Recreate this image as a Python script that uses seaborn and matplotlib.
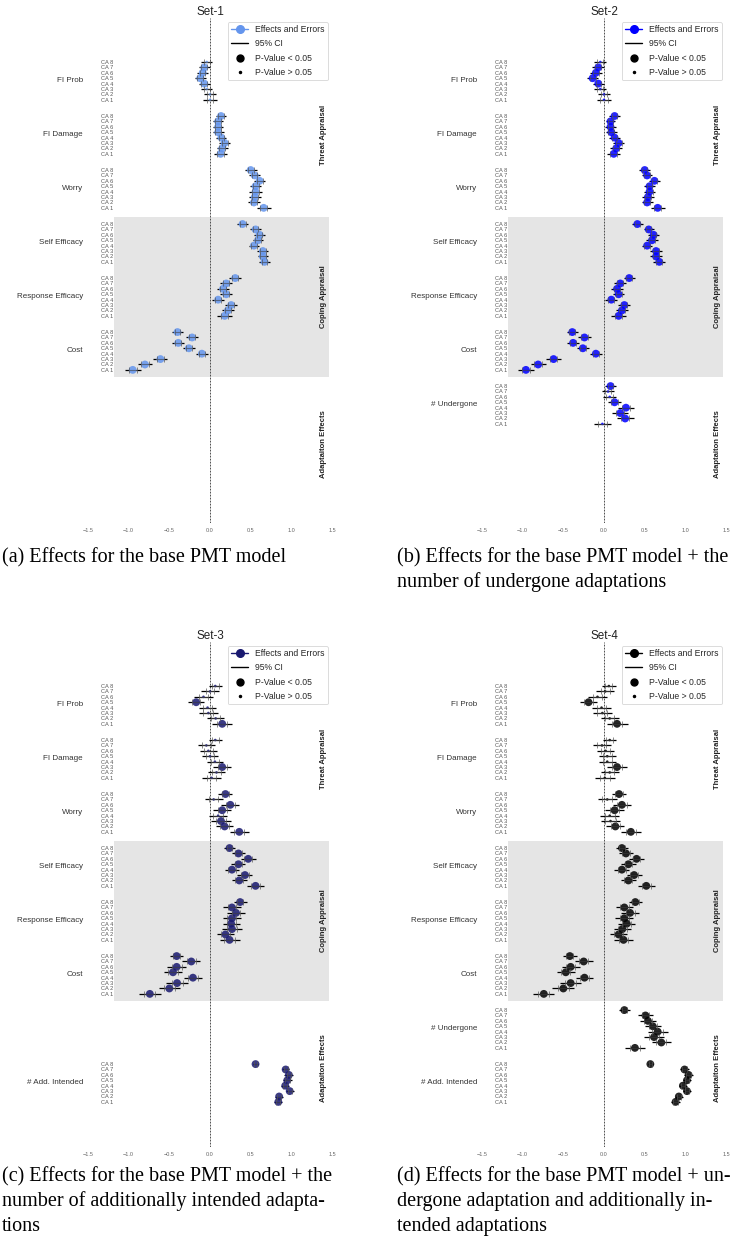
import numpy as np
import pandas as pd
import matplotlib
matplotlib.use("Agg")
import matplotlib.pyplot as plt
import matplotlib.transforms as mtransforms
from matplotlib.lines import Line2D
import seaborn as sns

# ---------------- data ----------------
CA_LABELS = ["CA 8", "CA 7", "CA 6", "CA 5", "CA 4", "CA 3", "CA 2", "CA 1"]
GROUPS = ["FI Prob", "FI Damage", "Worry", "Self Efficacy", "Response Efficacy",
          "Cost", "# Undergone", "# Add. Intended"]
SECTIONS = ["Threat Appraisal", "Coping Appraisal", "Adaptaiton Effects"]
SET_TITLES = ["Set-1", "Set-2", "Set-3", "Set-4"]
SET_COLORS = ["#6495ED", "#0000FF", "#191970", "#000000"]
SET_GROUPS = [[0, 1, 2, 3, 4, 5], [0, 1, 2, 3, 4, 5, 6],
              [0, 1, 2, 3, 4, 5, 7], [0, 1, 2, 3, 4, 5, 6, 7]]
LEGEND_LABELS = ["Effects and Errors", "95% CI", "P-Value < 0.05", "P-Value > 0.05"]
X_TICKS = [-1.5, -1.0, -0.5, 0.0, 0.5, 1.0, 1.5]
CAPTIONS = [
    ["(a) Effects for the base PMT model"],
    ["(b) Effects for the base PMT model + the", "number of undergone adaptations"],
    ["(c) Effects for the base PMT model + the", "number of additionally intended adapta-", "tions"],
    ["(d) Effects for the base PMT model + un-", "dergone adaptation and additionally in-", "tended adaptations"],
]

# effects (rows = groups of the set, columns = CA 8 ... CA 1)
S1_EFFECT = [
    [-0.04, -0.07, -0.09, -0.12, -0.07, -0.04, 0.00, 0.00],
    [0.135, 0.10, 0.10, 0.10, 0.14, 0.18, 0.15, 0.13],
    [0.50, 0.55, 0.61, 0.56, 0.56, 0.55, 0.54, 0.66],
    [0.40, 0.56, 0.61, 0.59, 0.54, 0.65, 0.65, 0.67],
    [0.31, 0.20, 0.16, 0.20, 0.10, 0.26, 0.22, 0.18],
    [-0.40, -0.22, -0.39, -0.26, -0.10, -0.61, -0.80, -0.95],
]
S1_CI = [
    [0.068, 0.068, 0.065, 0.070, 0.068, 0.068, 0.078, 0.082],
    [0.065, 0.065, 0.065, 0.067, 0.061, 0.070, 0.070, 0.075],
    [0.072, 0.065, 0.072, 0.072, 0.076, 0.074, 0.070, 0.088],
    [0.072, 0.068, 0.068, 0.065, 0.065, 0.068, 0.065, 0.072],
    [0.072, 0.072, 0.072, 0.072, 0.070, 0.078, 0.072, 0.088],
    [0.065, 0.074, 0.072, 0.072, 0.070, 0.086, 0.090, 0.096],
]
S1_SIG = [
    [0, 1, 1, 1, 1, 0, 0, 0],
    [1, 1, 1, 1, 1, 1, 1, 1],
    [1, 1, 1, 1, 1, 1, 1, 1],
    [1, 1, 1, 1, 1, 1, 1, 1],
    [1, 1, 1, 1, 1, 1, 1, 1],
    [1, 1, 1, 1, 1, 1, 1, 1],
]

S2_EFFECT = [
    [-0.045, -0.07, -0.10, -0.14, -0.07, -0.045, 0.00, 0.00],
    [0.13, 0.08, 0.08, 0.09, 0.13, 0.18, 0.15, 0.12],
    [0.50, 0.53, 0.62, 0.56, 0.56, 0.54, 0.53, 0.66],
    [0.41, 0.55, 0.61, 0.59, 0.53, 0.64, 0.64, 0.68],
    [0.31, 0.20, 0.16, 0.18, 0.09, 0.25, 0.22, 0.18],
    [-0.39, -0.24, -0.38, -0.26, -0.10, -0.62, -0.81, -0.96],
    [0.08, 0.05, 0.07, 0.13, 0.27, 0.20, 0.26, -0.02],
]
S2_CI = [
    [0.072, 0.072, 0.072, 0.072, 0.066, 0.072, 0.072, 0.088],
    [0.065, 0.061, 0.070, 0.068, 0.065, 0.072, 0.072, 0.082],
    [0.065, 0.065, 0.068, 0.070, 0.072, 0.072, 0.068, 0.086],
    [0.065, 0.061, 0.063, 0.068, 0.063, 0.070, 0.070, 0.076],
    [0.070, 0.072, 0.072, 0.070, 0.072, 0.074, 0.076, 0.088],
    [0.068, 0.078, 0.074, 0.078, 0.076, 0.092, 0.092, 0.094],
    [0.068, 0.078, 0.078, 0.076, 0.098, 0.100, 0.104, 0.106],
]
S2_SIG = [
    [0, 1, 1, 1, 1, 0, 0, 0],
    [1, 1, 1, 1, 1, 1, 1, 1],
    [1, 1, 1, 1, 1, 1, 1, 1],
    [1, 1, 1, 1, 1, 1, 1, 1],
    [1, 1, 1, 1, 1, 1, 1, 1],
    [1, 1, 1, 1, 1, 1, 1, 1],
    [1, 0, 0, 1, 1, 1, 1, 0],
]

S3_EFFECT = [
    [0.065, 0.00, -0.08, -0.17, -0.03, -0.02, 0.07, 0.15],
    [0.065, -0.045, -0.02, 0.00, 0.06, 0.15, 0.08, 0.02],
    [0.19, 0.045, 0.25, 0.15, 0.10, 0.135, 0.18, 0.36],
    [0.24, 0.35, 0.47, 0.35, 0.27, 0.43, 0.36, 0.56],
    [0.37, 0.27, 0.32, 0.27, 0.26, 0.27, 0.19, 0.24],
    [-0.41, -0.23, -0.41, -0.455, -0.21, -0.405, -0.50, -0.74],
    [0.56, 0.93, 0.97, 0.95, 0.925, 0.98, 0.85, 0.84],
]
S3_CI = [
    [0.082, 0.108, 0.112, 0.102, 0.108, 0.118, 0.108, 0.123],
    [0.080, 0.106, 0.104, 0.102, 0.098, 0.112, 0.106, 0.115],
    [0.086, 0.112, 0.112, 0.108, 0.112, 0.118, 0.108, 0.118],
    [0.070, 0.082, 0.090, 0.086, 0.088, 0.092, 0.094, 0.102],
    [0.080, 0.106, 0.106, 0.108, 0.106, 0.123, 0.104, 0.123],
    [0.078, 0.112, 0.118, 0.115, 0.112, 0.133, 0.131, 0.133],
    [0.035, 0.045, 0.055, 0.057, 0.051, 0.049, 0.047, 0.051],
]
S3_SIG = [
    [0, 0, 0, 1, 0, 0, 0, 1],
    [0, 0, 0, 0, 0, 1, 0, 0],
    [1, 0, 1, 1, 0, 1, 1, 1],
    [1, 1, 1, 1, 1, 1, 1, 1],
    [1, 1, 1, 1, 1, 1, 1, 1],
    [1, 1, 1, 1, 1, 1, 1, 1],
    [1, 1, 1, 1, 1, 1, 1, 1],
]

S4_EFFECT = [
    [0.06, 0.015, -0.08, -0.19, -0.03, -0.02, 0.07, 0.16],
    [0.07, -0.025, 0.02, 0.04, 0.04, 0.16, 0.07, 0.01],
    [0.185, 0.04, 0.22, 0.13, 0.07, 0.08, 0.14, 0.33],
    [0.22, 0.27, 0.40, 0.30, 0.22, 0.37, 0.30, 0.52],
    [0.385, 0.25, 0.32, 0.25, 0.28, 0.225, 0.18, 0.24],
    [-0.42, -0.25, -0.41, -0.47, -0.24, -0.41, -0.50, -0.74],
    [0.25, 0.51, 0.54, 0.60, 0.66, 0.615, 0.705, 0.38],
    [0.57, 0.99, 1.04, 1.02, 0.97, 1.02, 0.92, 0.88],
]
S4_CI = [
    [0.086, 0.112, 0.112, 0.102, 0.116, 0.119, 0.112, 0.129],
    [0.082, 0.108, 0.106, 0.106, 0.106, 0.117, 0.112, 0.121],
    [0.088, 0.117, 0.112, 0.112, 0.116, 0.121, 0.112, 0.127],
    [0.076, 0.090, 0.092, 0.088, 0.092, 0.092, 0.096, 0.106],
    [0.080, 0.102, 0.108, 0.110, 0.106, 0.106, 0.108, 0.120],
    [0.082, 0.112, 0.112, 0.111, 0.108, 0.131, 0.137, 0.129],
    [0.065, 0.088, 0.094, 0.102, 0.125, 0.123, 0.119, 0.123],
    [0.030, 0.053, 0.053, 0.053, 0.049, 0.053, 0.047, 0.051],
]
S4_SIG = [
    [0, 0, 0, 1, 0, 0, 0, 1],
    [0, 0, 0, 0, 0, 1, 0, 0],
    [1, 0, 1, 1, 0, 0, 1, 1],
    [1, 1, 1, 1, 1, 1, 1, 1],
    [1, 1, 1, 1, 1, 1, 1, 1],
    [1, 1, 1, 1, 1, 1, 1, 1],
    [1, 1, 1, 1, 1, 1, 1, 1],
    [1, 1, 1, 1, 1, 1, 1, 1],
]

SET_EFFECTS = [S1_EFFECT, S2_EFFECT, S3_EFFECT, S4_EFFECT]
SET_CIS = [S1_CI, S2_CI, S3_CI, S4_CI]
SET_SIGS = [S1_SIG, S2_SIG, S3_SIG, S4_SIG]

# ---------------- style ----------------
sns.set_theme(style="white")
plt.rcParams["font.family"] = ["Liberation Sans", "DejaVu Sans"]

W, H = 740, 1247
fig = plt.figure(figsize=(W / 100, H / 100), dpi=100)

PANEL_BOXES = [(88, 18, 332, 523), (482, 18, 726, 523),
               (88, 642, 332, 1147), (482, 642, 726, 1147)]
CAPTION_POS = [(2, 562), (397, 562), (2, 1181), (397, 1181)]
GROUP_STEP = 10
Y_TOP, Y_BOTTOM = -8.15, 85.35
SHADE = (28.7, 58.3)
SHADE_X = ((114 - 88) / 244, (329 - 88) / 244)
SECTION_Y = [13.5, 43.5, 70.7]

for k in range(4):
    l, t, r, b = PANEL_BOXES[k]
    ax = fig.add_axes([l / W, 1 - b / H, (r - l) / W, (b - t) / H])
    color = SET_COLORS[k]

    rows = []
    for gi, g in enumerate(SET_GROUPS[k]):
        for i in range(8):
            eff = SET_EFFECTS[k][gi][i]
            ci = SET_CIS[k][gi][i]
            rows.append(dict(pos=g * GROUP_STEP + i, effect=eff, lo=eff - ci, hi=eff + ci,
                             se=ci / 1.96, sig="sig" if SET_SIGS[k][gi][i] else "ns",
                             label=CA_LABELS[i]))
    df = pd.DataFrame(rows)

    # shaded coping appraisal block
    ax.axhspan(SHADE[0], SHADE[1], xmin=SHADE_X[0], xmax=SHADE_X[1],
               color="#e5e5e5", lw=0, zorder=0)
    ax.axvline(0, color="#333333", ls=(0, (2.2, 1.4)), lw=0.6, zorder=1)

    # 95% CI
    ax.hlines(df["pos"], df["lo"], df["hi"], color="black", lw=0.9, zorder=2)
    # effects
    sns.scatterplot(data=df, x="effect", y="pos", size="sig",
                    sizes={"sig": 32, "ns": 3.5}, size_order=["sig", "ns"],
                    color=color, alpha=0.85, linewidth=0, legend=False,
                    ax=ax, zorder=3)
    # standard errors
    ax.errorbar(df["effect"], df["pos"], xerr=df["se"], fmt="none",
                ecolor="#555555", elinewidth=0.5, capsize=2.0, capthick=0.6,
                alpha=0.8, zorder=4)

    ax.set_xlim(-1.5, 1.5)
    ax.set_ylim(Y_BOTTOM, Y_TOP)
    ax.set_xlabel("")
    ax.set_ylabel("")
    ax.set_xticks(X_TICKS)
    ax.set_xticklabels([f"{v:.1f}".replace("-", "\u2212") for v in X_TICKS])
    ax.set_yticks(df["pos"])
    ax.set_yticklabels(df["label"])
    ax.tick_params(axis="x", length=0, pad=3.5, labelsize=4.0, labelcolor="#666666")
    ax.tick_params(axis="y", length=0, pad=-18, labelsize=4.1, labelcolor="#555555")
    for sp in ax.spines.values():
        sp.set_visible(False)

    trans = mtransforms.blended_transform_factory(ax.transAxes, ax.transData)
    for g in SET_GROUPS[k]:
        ax.text(-0.02, g * GROUP_STEP + 3.5, GROUPS[g], transform=trans,
                ha="right", va="center", fontsize=5.8, color="#333333")
    for s in range(3):
        ax.text(1.39, SECTION_Y[s], SECTIONS[s], rotation=90, ha="center", va="center",
                fontsize=5.5, fontweight="bold", color="#222222")

    ax.set_title(SET_TITLES[k], fontsize=8.4, pad=2.5, color="#222222")

    handles = [
        Line2D([0], [0], color=color, marker="o", markersize=5.5, lw=1.0),
        Line2D([0], [0], color="black", lw=1.0),
        Line2D([0], [0], color="black", marker="o", markersize=5.0, lw=0),
        Line2D([0], [0], color="black", marker="o", markersize=1.5, lw=0),
    ]
    leg = ax.legend(handles, LEGEND_LABELS, loc="upper right", fontsize=6.2,
                    frameon=True, borderaxespad=0.45, labelspacing=0.6)
    leg.get_frame().set_edgecolor("#cccccc")
    leg.get_frame().set_linewidth(0.6)

    cx, cy = CAPTION_POS[k]
    for j, line in enumerate(CAPTIONS[k]):
        fig.text(cx / W, 1 - (cy + 25 * j) / H, line, ha="left", va="baseline",
                 fontsize=14.5, family="Liberation Serif", color="black")

fig.savefig("out.png", dpi=100)
